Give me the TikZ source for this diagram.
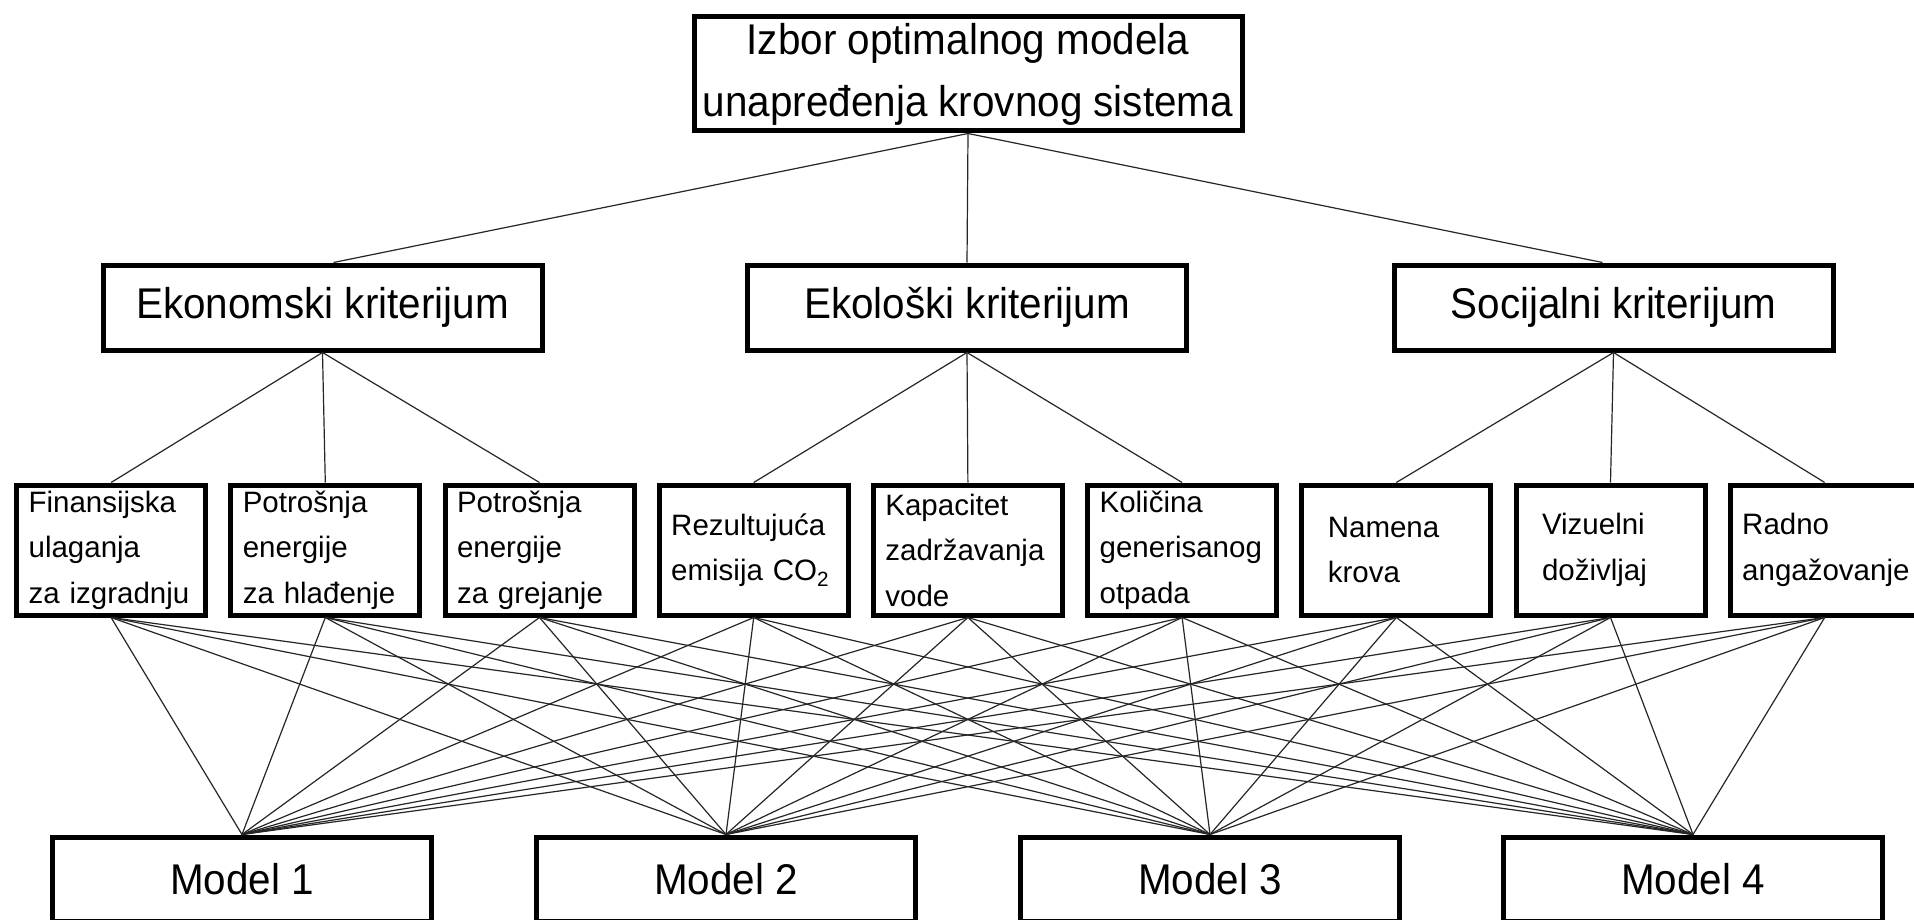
\documentclass[tikz,border=0pt]{standalone}
\usepackage{fontspec}
\setmainfont{Liberation Sans}
\newfontfamily\boxfont[FakeStretch=0.94]{Liberation Sans}
\usetikzlibrary{calc}
\begin{document}
\begin{tikzpicture}[x=1pt,y=-1pt,
  box/.style={draw, line width=5pt, fill=white, inner sep=0pt},
  goalbox/.style={box, minimum width=548pt, minimum height=114pt, align=center,
    font=\boxfont\fontsize{43}{58}\selectfont},
  critbox/.style={box, minimum width=439pt, minimum height=85pt,
    font=\boxfont\fontsize{43}{52}\selectfont},
  subbox/.style={box, minimum width=189pt, minimum height=130pt, text width=165pt,
    align=left, font=\fontsize{29.5}{45.5}\selectfont},
  modelbox/.style={box, minimum width=379pt, minimum height=84pt,
    font=\boxfont\fontsize{43}{52}\selectfont},
  link/.style={line width=1.2pt, black!85}]

\useasboundingbox (0,0) rectangle (1914,920);
\fill[white] (0,0) rectangle (1914,920);
\clip (0,0) rectangle (1914,920);

% goal
\node[goalbox] (goal) at (968,74) {Izbor optimalnog modela\\[4pt]unapređenja krovnog sistema};

% criteria
\node[critbox] (eko)  at (322.5,307.5) {Ekonomski kriterijum};
\node[critbox] (ekol) at (967,307.5)   {Ekološki kriterijum};
\node[critbox] (soc)  at (1613.5,307.5) {Socijalni kriterijum};

% sub-criteria
\node[subbox] (s1) at (111.1,550)  {Finansijska\\ulaganja\\za izgradnju};
\node[subbox] (s2) at (325.3,550)  {Potrošnja\\energije\\za hlađenje};
\node[subbox] (s3) at (539.5,550)  {Potrošnja\\energije\\za grejanje};
\node[subbox] (s4) at (753.7,550)  {Rezultujuća\\emisija CO\textsubscript{2}};
\node[subbox] (s5) at (967.9,550)  {Kapacitet\\zadržavanja\\vode};
\node[subbox] (s6) at (1182.1,550) {Količina\\generisanog\\otpada};
\node[subbox, text width=137pt] (s7) at (1396.3,550) {Namena\\krova};
\node[subbox, text width=137pt] (s8) at (1610.5,550) {Vizuelni\\doživljaj};
\node[subbox] (s9) at (1824.7,550) {Radno\\angažovanje};

% alternatives
\node[modelbox] (m1) at (242,879)  {Model 1};
\node[modelbox] (m2) at (726,879)  {Model 2};
\node[modelbox] (m3) at (1210,879) {Model 3};
\node[modelbox] (m4) at (1693,879) {Model 4};

% goal to criteria
\draw[link] (goal.south) -- ($(eko.north)+(11,0)$);
\draw[link] (goal.south) -- (ekol.north);
\draw[link] (goal.south) -- ($(soc.north)+(-11,0)$);

% criteria to sub-criteria
\foreach \s in {s1,s2,s3} \draw[link] (eko.south) -- (\s.north);
\foreach \s in {s4,s5,s6} \draw[link] (ekol.south) -- (\s.north);
\foreach \s in {s7,s8,s9} \draw[link] (soc.south) -- (\s.north);

% every sub-criterion to every model
\foreach \i in {1,...,9}
  \foreach \j in {1,...,4}
    \draw[link] (s\i.south) -- (m\j.north);
\end{tikzpicture}
\end{document}
